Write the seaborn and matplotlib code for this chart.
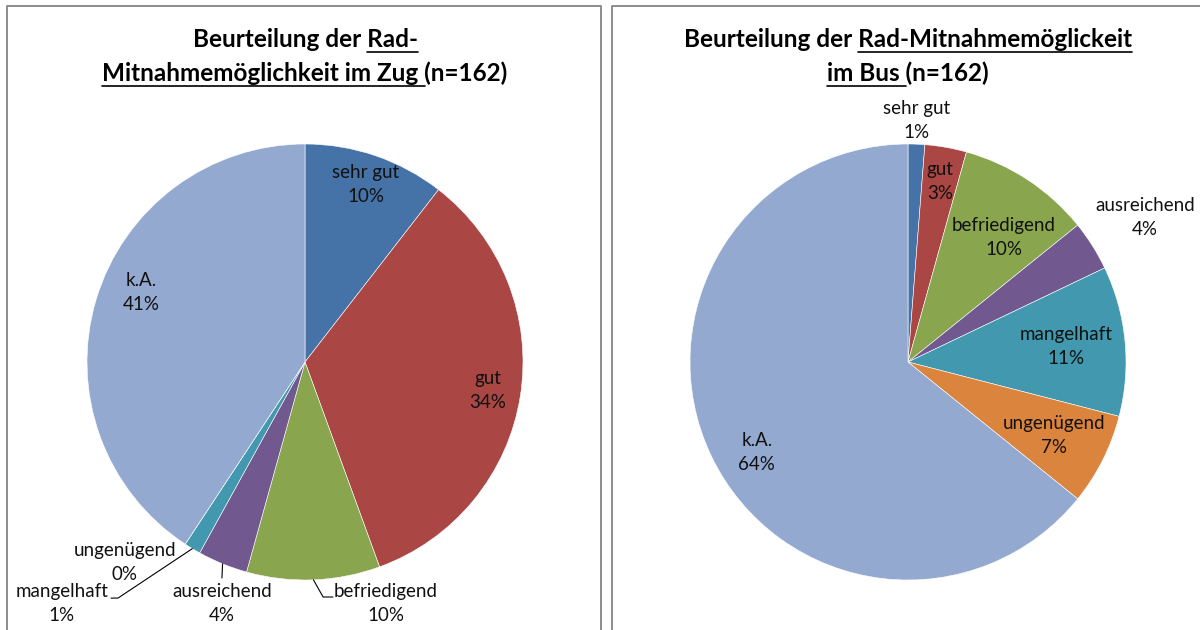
import numpy as np
import seaborn as sns
import matplotlib
matplotlib.use("Agg")
import matplotlib.pyplot as plt
from matplotlib.lines import Line2D

# answers per category, n=162 in both surveys
categories = ["sehr gut", "gut", "befriedigend", "ausreichend", "mangelhaft", "ungenügend", "k.A."]
zug_counts = [17, 55, 16, 6, 2, 0, 66]
bus_counts = [2, 5, 16, 6, 18, 11, 104]
n_total = 162

zug_title = [[("Beurteilung der ", False), ("Rad-", True)],
             [("Mitnahmemöglichkeit im Zug ", True), ("(n=162)", False)]]
bus_title = [[("Beurteilung der ", False), ("Rad-Mitnahmemöglickeit", True)],
             [("im Bus ", True), ("(n=162)", False)]]

sns.set_theme(style="white")
plt.rcParams["font.family"] = ["Lato", "DejaVu Sans"]
colors = sns.color_palette(["#4572A7", "#AA4643", "#89A54E", "#71588F",
                            "#4198AF", "#DB843D", "#93A9CF"])

W, H = 1200, 630
fig = plt.figure(figsize=(12, 6.3), dpi=100)
fig.patch.set_facecolor("white")
renderer = fig.canvas.get_renderer()


def fx(px):
    return px / W


def fy(py):
    return 1 - py / H


def text_w(s, **kw):
    t = fig.text(0, 0, s + "x", **kw)
    w1 = t.get_window_extent(renderer).width
    t.remove()
    t = fig.text(0, 0, "x", **kw)
    w0 = t.get_window_extent(renderer).width
    t.remove()
    return w1 - w0


def draw_title(cx, lines, baselines):
    kw = dict(fontsize=17.5, fontweight="bold", color="black")
    for segs, base in zip(lines, baselines):
        full = "".join(s for s, _ in segs)
        x0 = cx - text_w(full, **kw) / 2
        fig.text(fx(x0), fy(base), full, ha="left", va="baseline", **kw)
        prefix = ""
        for s, ul in segs:
            if ul:
                a = x0 + text_w(prefix, **kw) if prefix else x0
                b = x0 + text_w(prefix + s, **kw)
                fig.add_artist(Line2D([fx(a), fx(b)], [fy(base + 5)] * 2,
                                      color="black", lw=1.2))
            prefix += s


def draw_pie(cx, cy, r, counts, place, leaders):
    ax = fig.add_axes([fx(cx - r), fy(cy + r), 2 * r / W, 2 * r / H])
    wedges, _ = ax.pie(counts, colors=colors, startangle=90, counterclock=False,
                       radius=1, wedgeprops=dict(edgecolor="white", linewidth=0.4))
    ax.set_xlim(-1, 1)
    ax.set_ylim(-1, 1)
    ax.axis("off")
    cum = np.cumsum([0] + list(counts))
    for i, cat in enumerate(categories):
        mid = np.deg2rad((cum[i] + cum[i + 1]) / 2 / n_total * 360)
        pct = int(counts[i] / n_total * 100 + 0.5)
        p = place.get(cat, 0.82)
        if isinstance(p, tuple):
            tx, ty = p
        else:
            tx, ty = p * np.sin(mid), p * np.cos(mid)
        ax.text(tx, ty, f"{cat}\n{pct}%", ha="center", va="center",
                fontsize=13.5, linespacing=1.5, color="#111111", clip_on=False)
        if cat in leaders:
            pts = [(np.sin(mid), np.cos(mid))] + leaders[cat]
            xs, ys = zip(*pts)
            ax.add_line(Line2D(xs, ys, color="black", lw=0.8, clip_on=False))


# panel frames
frame = dict(color="#8C8C8C", lw=1.4)
for x0, x1 in [(7, 601), (612, 1220)]:
    fig.add_artist(Line2D([fx(x0), fx(x0), fx(x1), fx(x1)],
                          [fy(640), fy(6), fy(6), fy(640)], **frame))

draw_title(305, zug_title, [47, 81])
draw_title(908, bus_title, [47, 81])

zug_place = {"sehr gut": 0.86, "gut": 0.85, "k.A.": (-0.752, 0.321),
             "befriedigend": (0.372, -1.106), "ausreichend": (-0.381, -1.106),
             "mangelhaft": (-1.115, -1.106), "ungenügend": (-0.826, -0.922)}
zug_leaders = {"befriedigend": [(0.083, -1.078), (0.128, -1.078)],
               "ausreichend": [(-0.381, -0.991)],
               "mangelhaft": [(-0.858, -1.083), (-0.890, -1.083)]}
bus_place = {"sehr gut": (0.037, 1.110), "gut": 0.84, "befriedigend": (0.440, 0.569),
             "ausreichend": (1.087, 0.661), "mangelhaft": 0.73, "ungenügend": 0.75,
             "k.A.": (-0.693, -0.417)}

draw_pie(305, 362, 218, zug_counts, zug_place, zug_leaders)
draw_pie(908, 362, 218, bus_counts, bus_place, {})

plt.savefig("out.png", dpi=100)
